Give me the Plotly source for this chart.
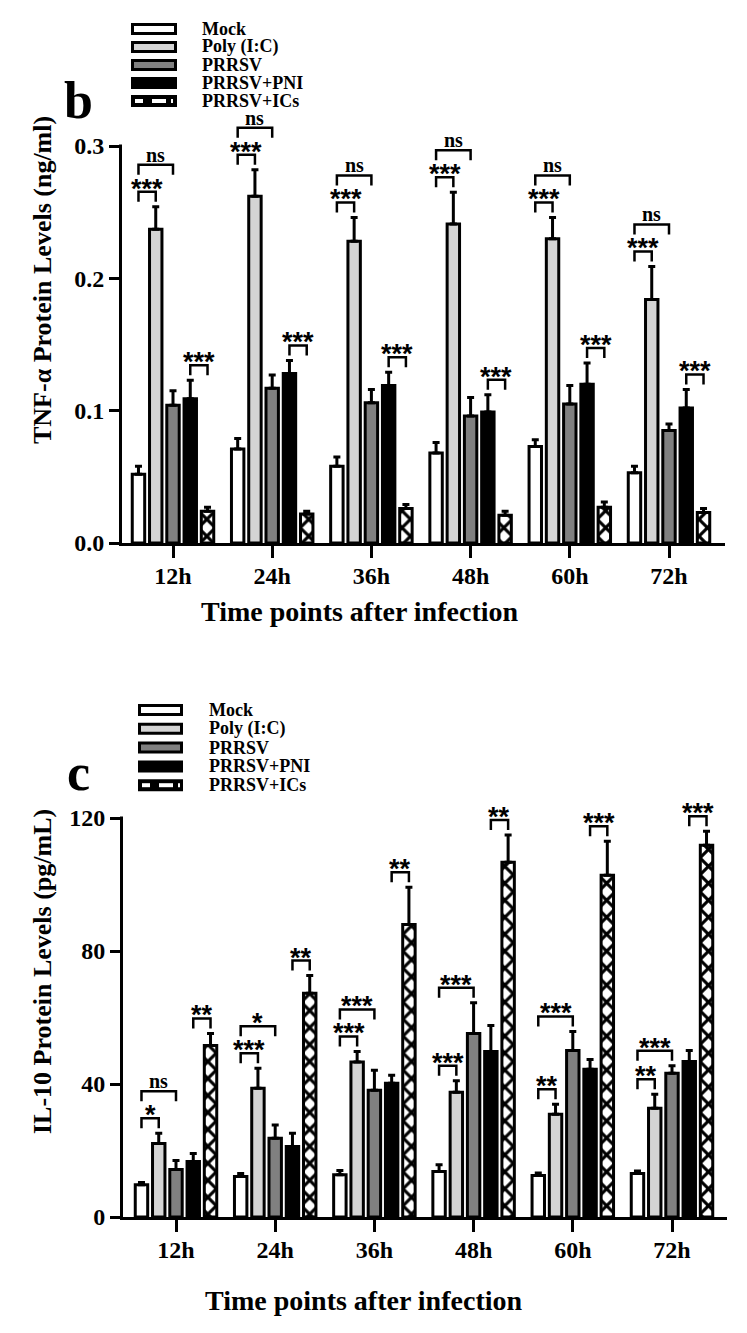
import plotly.graph_objects as go

# page has an 8px body margin: figure is drawn 8px in from the window edge
OFF = 8
W, H = 747 - 2 * OFF, 1333 - 2 * OFF

# ---------------- data ----------------
time_points = ["12h", "24h", "36h", "48h", "60h", "72h"]
groups = ["Mock", "Poly (I:C)", "PRRSV", "PRRSV+PNI", "PRRSV+ICs"]

tnf_mock = [0.052, 0.071, 0.058, 0.068, 0.073, 0.053]
tnf_mock_sem = [0.006, 0.008, 0.007, 0.008, 0.005, 0.005]
tnf_poly = [0.237, 0.262, 0.228, 0.241, 0.230, 0.184]
tnf_poly_sem = [0.017, 0.020, 0.018, 0.024, 0.016, 0.025]
tnf_prrsv = [0.104, 0.117, 0.106, 0.096, 0.105, 0.085]
tnf_prrsv_sem = [0.011, 0.010, 0.010, 0.014, 0.014, 0.005]
tnf_pni = [0.109, 0.128, 0.119, 0.099, 0.120, 0.102]
tnf_pni_sem = [0.014, 0.010, 0.010, 0.013, 0.016, 0.014]
tnf_ics = [0.024, 0.022, 0.026, 0.021, 0.027, 0.023]
tnf_ics_sem = [0.003, 0.002, 0.003, 0.003, 0.004, 0.003]

il10_mock = [9.7, 12.2, 12.7, 13.7, 12.5, 13.1]
il10_mock_sem = [0.7, 0.9, 1.3, 2.0, 0.7, 0.7]
il10_poly = [22.1, 38.7, 46.6, 37.5, 30.9, 32.7]
il10_poly_sem = [3.1, 6.0, 3.2, 3.5, 3.0, 4.2]
il10_prrsv = [14.3, 23.7, 38.1, 55.2, 50.1, 43.2]
il10_prrsv_sem = [2.7, 4.0, 6.0, 9.2, 5.7, 2.3]
il10_pni = [16.7, 21.2, 40.2, 49.8, 44.4, 46.8]
il10_pni_sem = [2.4, 4.0, 2.4, 7.8, 3.0, 3.3]
il10_ics = [51.6, 67.3, 88.0, 106.7, 102.8, 111.8]
il10_ics_sem = [3.6, 5.3, 11.2, 8.2, 10.2, 4.2]

tnf_sig_mock_poly = ["***", "***", "***", "***", "***", "***"]
tnf_sig_mock_prrsv = ["ns", "ns", "ns", "ns", "ns", "ns"]
tnf_sig_pni_ics = ["***", "***", "***", "***", "***", "***"]

il10_sig_mock_poly = ["*", "***", "***", "***", "**", "**"]
il10_sig_mock_prrsv = ["ns", "*", "***", "***", "***", "***"]
il10_sig_pni_ics = ["**", "**", "**", "**", "***", "***"]

tnf_yticks = [0.0, 0.1, 0.2, 0.3]
il10_yticks = [0, 40, 80, 120]

# ---------------- style ----------------
fill_colors = ["white", "#d4d4d4", "#808080", "black", "white"]
SERIF = "Liberation Serif"
SANS = "Liberation Sans"
BARGAP = 0.13
BARGROUPGAP = 0.28
LW = 3


def px(x):
    return (x - OFF) / W


def py(y):
    return 1 - (y - OFF) / H


panels = [
    dict(letter="b", xa="x", ya="y", x0=122, x1=725, xfirst=173, xpitch=99.2,
         ybase=543, ymaxpx=146, ytop=95, yticks=tnf_yticks, tickformat=".1f",
         vals=[tnf_mock, tnf_poly, tnf_prrsv, tnf_pni, tnf_ics],
         sems=[tnf_mock_sem, tnf_poly_sem, tnf_prrsv_sem, tnf_pni_sem, tnf_ics_sem],
         sig=[tnf_sig_mock_poly, tnf_sig_mock_prrsv, tnf_sig_pni_ics],
         ytitle="TNF-α Protein Levels (ng/ml)", ytitle_xy=(42, 280),
         xtitle_xy=(359, 611), letter_xy=(78, 100),
         leg_x0=131, leg_x1=177, leg_text_x=200, leg_y0=29, leg_dy=18),
    dict(letter="c", xa="x2", ya="y2", x0=123, x1=727, xfirst=176, xpitch=99.2,
         ybase=1217, ymaxpx=818, ytop=790, yticks=il10_yticks, tickformat="d",
         vals=[il10_mock, il10_poly, il10_prrsv, il10_pni, il10_ics],
         sems=[il10_mock_sem, il10_poly_sem, il10_prrsv_sem, il10_pni_sem, il10_ics_sem],
         sig=[il10_sig_mock_poly, il10_sig_mock_prrsv, il10_sig_pni_ics],
         ytitle="IL-10 Protein Levels (pg/mL)", ytitle_xy=(42, 972),
         xtitle_xy=(363, 1300), letter_xy=(78, 772),
         leg_x0=138, leg_x1=183, leg_text_x=207, leg_y0=710, leg_dy=18.8),
]

fig = go.Figure()
shapes = []
annotations = []
layout_axes = {}

xpos = list(range(len(time_points)))

for k, p in enumerate(panels):
    ymaxval = p["yticks"][-1]
    scale = (p["ybase"] - p["ymaxpx"]) / ymaxval  # px per unit
    xr = [-(p["xfirst"] - p["x0"]) / p["xpitch"], (p["x1"] - p["xfirst"]) / p["xpitch"]]
    yr = [0, (p["ybase"] - p["ytop"]) / scale]
    suffix = "" if k == 0 else str(k + 1)

    for j, name in enumerate(groups):
        marker = dict(color=fill_colors[j], line=dict(color="black", width=LW))
        if j == 4:
            marker["pattern"] = dict(shape="x", fgcolor="black", bgcolor="white",
                                     size=12, solidity=0.45)
        fig.add_trace(go.Bar(
            x=xpos, y=p["vals"][j], name=name, xaxis=p["xa"], yaxis=p["ya"],
            marker=marker, showlegend=False,
            error_y=dict(type="data", array=p["sems"][j],
                         arrayminus=[0] * len(xpos), symmetric=False,
                         color="black", thickness=3, width=3.5),
        ))

    # significance brackets
    def cx(i, j):
        return i + (j - 2) * (1 - BARGAP) / 5

    tops = [[v + s for v, s in zip(p["vals"][j], p["sems"][j])] for j in range(5)]
    gap_u, step_u, drop_u = 15 / scale, 27 / scale, 10 / scale
    bx, by = [], []
    for i in xpos:
        l1 = max(tops[0][i], tops[1][i]) + gap_u
        l2 = max(l1 + step_u, max(tops[0][i], tops[1][i], tops[2][i]) + gap_u)
        l3 = max(tops[3][i], tops[4][i]) + gap_u
        for (a, b, lev, lab) in [(0, 1, l1, p["sig"][0][i]),
                                 (0, 2, l2, p["sig"][1][i]),
                                 (3, 4, l3, p["sig"][2][i])]:
            bx += [cx(i, a), cx(i, a), cx(i, b), cx(i, b), None]
            by += [lev - drop_u, lev, lev, lev - drop_u, None]
            if lab == "ns":
                font = dict(family=SERIF, size=20, color="black", weight="bold")
                ys = -3
            else:
                font = dict(family=SANS, size=27, color="black", weight="bold")
                ys = -14
            annotations.append(dict(
                x=(cx(i, a) + cx(i, b)) / 2, y=lev, xref=p["xa"], yref=p["ya"],
                text=lab, showarrow=False, xanchor="center", yanchor="bottom",
                yshift=ys, font=font))
    fig.add_trace(go.Scatter(x=bx, y=by, mode="lines", xaxis=p["xa"], yaxis=p["ya"],
                             line=dict(color="black", width=2.5), showlegend=False,
                             hoverinfo="skip"))

    # axes
    layout_axes["xaxis" + suffix] = dict(
        domain=[px(p["x0"]), px(p["x1"])], range=xr, anchor=p["ya"],
        tickmode="array", tickvals=xpos, ticktext=time_points,
        showline=True, linecolor="black", linewidth=3,
        ticks="outside", ticklen=12, tickwidth=3, tickcolor="black",
        ticklabelstandoff=-3,
        showgrid=False, zeroline=False, automargin=False,
        tickfont=dict(family=SERIF, size=24, color="black", weight="bold"))
    layout_axes["yaxis" + suffix] = dict(
        domain=[py(p["ybase"]), py(p["ytop"])], range=yr, anchor=p["xa"],
        tickmode="array", tickvals=p["yticks"], tickformat=p["tickformat"],
        showline=False, ticks="outside", ticklen=12, tickwidth=3, tickcolor="black",
        showgrid=False, zeroline=False, automargin=False,
        tickfont=dict(family=SERIF, size=24, color="black", weight="bold"))

    # y axis line only up to the top tick
    shapes.append(dict(type="line", xref="paper", yref="paper",
                       x0=px(p["x0"] - 1.5), x1=px(p["x0"] - 1.5),
                       y0=py(p["ybase"] + 3), y1=py(p["ymaxpx"] - 1.5),
                       line=dict(color="black", width=3)))

    # titles
    annotations.append(dict(x=px(p["ytitle_xy"][0]), y=py(p["ytitle_xy"][1]),
                            xref="paper", yref="paper", text=p["ytitle"], textangle=-90,
                            showarrow=False, xanchor="center", yanchor="middle",
                            font=dict(family=SERIF, size=26, color="black", weight="bold")))
    annotations.append(dict(x=px(p["xtitle_xy"][0]), y=py(p["xtitle_xy"][1]),
                            xref="paper", yref="paper", text="Time points after infection",
                            showarrow=False, xanchor="center", yanchor="middle",
                            font=dict(family=SERIF, size=28, color="black", weight="bold")))
    annotations.append(dict(x=px(p["letter_xy"][0]), y=py(p["letter_xy"][1]),
                            xref="paper", yref="paper", text=p["letter"],
                            showarrow=False, xanchor="center", yanchor="middle",
                            font=dict(family=SERIF, size=52, color="black", weight="bold")))

    # manual legend
    for j, name in enumerate(groups):
        yc = p["leg_y0"] + j * p["leg_dy"]
        shapes.append(dict(type="rect", xref="paper", yref="paper",
                           x0=px(p["leg_x0"] + 1.5), x1=px(p["leg_x1"] - 1.5),
                           y0=py(yc + 4.5), y1=py(yc - 4.5),
                           fillcolor="black" if j == 4 else fill_colors[j],
                           line=dict(color="black", width=3)))
        if j == 4:
            for (a, b) in [(4, 12), (21, 35), (40, 42)]:
                shapes.append(dict(type="rect", xref="paper", yref="paper",
                                   x0=px(p["leg_x0"] + a), x1=px(p["leg_x0"] + b),
                                   y0=py(yc + 2), y1=py(yc - 2),
                                   fillcolor="white", line=dict(width=0)))
        annotations.append(dict(x=px(p["leg_text_x"]), y=py(yc), xref="paper", yref="paper",
                                text=name, showarrow=False, xanchor="left", yanchor="middle",
                                font=dict(family=SERIF, size=18, color="black", weight="bold")))

fig.update_layout(
    width=W, height=H, template="none",
    margin=dict(l=0, r=0, t=0, b=0, pad=0),
    paper_bgcolor="white", plot_bgcolor="white",
    barmode="group", bargap=BARGAP, bargroupgap=BARGROUPGAP,
    showlegend=False, shapes=shapes, annotations=annotations,
    **layout_axes,
)

fig.write_html("out.html", config={"displayModeBar": False})
